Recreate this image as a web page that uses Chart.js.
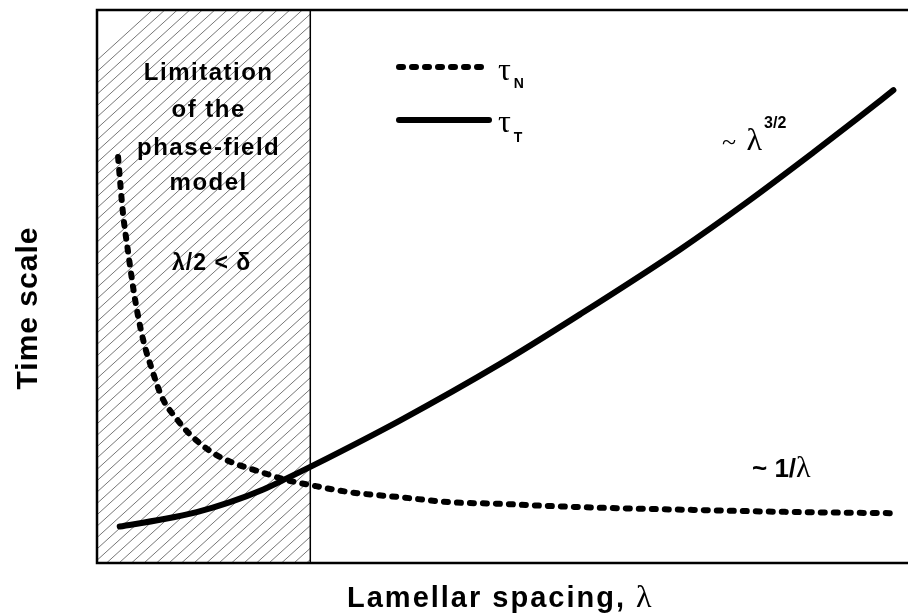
<!DOCTYPE html>
<html><head><meta charset="utf-8">
<script src="https://cdn.jsdelivr.net/npm/chart.js@4"></script>
<style>html,body{margin:0;padding:0;background:#fff}canvas{display:block}</style>
</head><body>
<canvas id="c" width="908" height="615" style="width:908px;height:615px"></canvas>
<script>
// Lamellar spacing (arbitrary units) and time scales
const lambdaN = [2.6, 3.2, 3.8, 4.7, 5.7, 6.8, 8.0, 9.9, 11.5, 14.3, 16.8, 20.1, 23.4, 26.3, 31.2, 37.4, 43.5, 49.7, 55.9, 62.0, 73.5, 86.7, 98.6];
const tauN    = [73.4, 63.3, 56.6, 47.6, 40.3, 34.9, 30.0, 25.9, 23.2, 19.9, 18.1, 16.5, 15.0, 14.1, 12.8, 11.9, 11.0, 10.7, 10.3, 10.0, 9.6, 9.2, 9.0];
const lambdaT = [2.8, 8.1, 12.3, 16.4, 20.5, 23.4, 26.6, 37.4, 49.7, 59.6, 71.9, 80.2, 88.3, 93.7, 98.2];
const tauT    = [6.6, 7.9, 9.2, 11.0, 13.3, 15.3, 17.6, 25.8, 36.0, 45.0, 56.7, 65.3, 74.2, 80.3, 85.5];
// Upper spacing of the region where λ/2 < δ
const limitLambda = 26.3;
const seriesLabels = ['τN', 'τT'];

const pts = (xs, ys) => xs.map((x, i) => ({x, y: ys[i]}));

const SANS = '"Liberation Sans", Arial, Helvetica, sans-serif';
const SERIF = '"Liberation Serif", "Times New Roman", serif';

function runs(ctx, x, y, parts) {
  let cx = x;
  parts.forEach(p => {
    ctx.font = p.font;
    ctx.fillText(p.t, cx, y + (p.dy || 0));
    cx += ctx.measureText(p.t).width + (p.gap || 0);
  });
}

const decor = {
  id: 'decor',
  beforeDatasetsDraw(chart) {
    const {ctx, chartArea: a, scales: {x}} = chart;
    const xl = x.getPixelForValue(limitLambda);
    ctx.save();
    // hatched band
    ctx.beginPath();
    ctx.rect(a.left, a.top, xl - a.left, a.bottom - a.top);
    ctx.clip();
    ctx.strokeStyle = '#666';
    ctx.lineWidth = 0.9;
    const h = a.bottom - a.top;
    for (let x0 = a.left - h; x0 < xl; x0 += 12.5) {
      ctx.beginPath();
      ctx.moveTo(x0, a.bottom);
      ctx.lineTo(x0 + h * 1.1, a.top);
      ctx.stroke();
    }
    ctx.restore();
    ctx.save();
    ctx.strokeStyle = '#000';
    ctx.lineWidth = 1.5;
    ctx.beginPath();
    ctx.moveTo(xl, a.top); ctx.lineTo(xl, a.bottom);
    ctx.stroke();
    ctx.lineWidth = 2.5;
    ctx.beginPath();
    ctx.moveTo(a.right, a.top); ctx.lineTo(a.left, a.top);
    ctx.lineTo(a.left, a.bottom); ctx.lineTo(a.right, a.bottom);
    ctx.stroke();
    ctx.restore();
  },
  afterDatasetsDraw(chart) {
    const {ctx, chartArea: a, scales: {x}} = chart;
    const xl = x.getPixelForValue(limitLambda);
    const cx = (a.left + xl) / 2 + 5;
    ctx.save();
    ctx.fillStyle = '#000';
    ctx.textBaseline = 'alphabetic';
    ctx.textAlign = 'center';
    ctx.font = 'bold 24px ' + SANS;
    ctx.letterSpacing = '1.5px';
    [['Limitation', 80], ['of the', 117], ['phase-field', 155], ['model', 190]].forEach(([t, y]) => {
      ctx.fillText(t, cx, y);
    });
    ctx.font = 'bold 23px ' + SANS;
    ctx.letterSpacing = '1px';
    ctx.fillText('λ/2 < δ', cx + 3, 270);
    ctx.letterSpacing = '0px';

    // legend
    ctx.lineWidth = 6;
    ctx.lineCap = 'round';
    ctx.setLineDash([4, 9]);
    ctx.beginPath(); ctx.moveTo(399, 67); ctx.lineTo(482, 67); ctx.stroke();
    ctx.setLineDash([]);
    ctx.beginPath(); ctx.moveTo(399, 120); ctx.lineTo(489, 120); ctx.stroke();
    ctx.textAlign = 'left';
    runs(ctx, 498, 80, [{t: 'τ', font: '32px ' + SERIF, gap: 3}, {t: 'N', font: 'bold 14px ' + SANS, dy: 8}]);
    runs(ctx, 498, 132, [{t: 'τ', font: '32px ' + SERIF, gap: 3}, {t: 'T', font: 'bold 14px ' + SANS, dy: 10}]);

    // scaling annotations
    runs(ctx, 722, 150, [{t: '~ ', font: '26px ' + SERIF, gap: 4}, {t: 'λ', font: '32px ' + SERIF, gap: 2}, {t: '3/2', font: 'bold 16px ' + SANS, dy: -22}]);
    runs(ctx, 752, 477, [{t: '~ 1/', font: 'bold 26px ' + SANS}, {t: 'λ', font: '30px ' + SERIF}]);

    // axis titles
    ctx.letterSpacing = '2px';
    runs(ctx, 347, 607, [{t: 'Lamellar spacing, ', font: 'bold 29px ' + SANS}, {t: 'λ', font: '32px ' + SERIF}]);
    ctx.letterSpacing = '1px';
    ctx.textAlign = 'center';
    ctx.translate(37, 308);
    ctx.rotate(-Math.PI / 2);
    ctx.font = 'bold 30px ' + SANS;
    ctx.fillText('Time scale', 0, 0);
    ctx.restore();
  }
};

new Chart(document.getElementById('c'), {
  type: 'line',
  data: {
    datasets: [
      {label: seriesLabels[0], data: pts(lambdaN, tauN), borderColor: '#000', borderWidth: 6,
       borderDash: [4, 9], borderCapStyle: 'round', pointRadius: 0, cubicInterpolationMode: 'monotone', fill: false},
      {label: seriesLabels[1], data: pts(lambdaT, tauT), borderColor: '#000', borderWidth: 6,
       borderCapStyle: 'round', pointRadius: 0, cubicInterpolationMode: 'monotone', fill: false}
    ]
  },
  options: {
    responsive: false,
    animation: false,
    devicePixelRatio: 1,
    layout: {padding: {left: 97, top: 10, right: 0, bottom: 52}},
    scales: {
      x: {type: 'linear', min: 0, max: 100, display: false},
      y: {type: 'linear', min: 0, max: 100, display: false}
    },
    plugins: {legend: {display: false}, tooltip: {enabled: false}, title: {display: false}}
  },
  plugins: [decor]
});
</script></body></html>
